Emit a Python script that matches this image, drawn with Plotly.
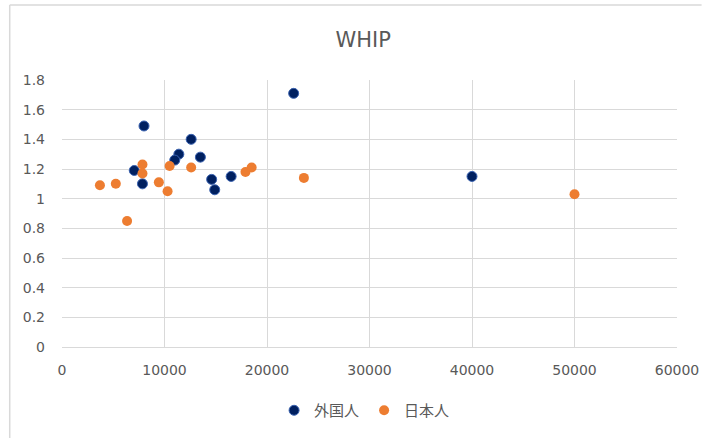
import plotly.graph_objects as go

# 外国人 (foreign players)
foreign_x = [22600, 8000, 12600, 11400, 11000, 13500, 7050, 7850, 14600, 14900, 16500, 40000]
foreign_y = [1.71, 1.49, 1.40, 1.30, 1.26, 1.28, 1.19, 1.10, 1.13, 1.06, 1.15, 1.15]

# 日本人 (Japanese players)
japanese_x = [3700, 5250, 7850, 7850, 6350, 9450, 10300, 10500, 12600, 17900, 18500, 23600, 50000]
japanese_y = [1.09, 1.10, 1.23, 1.17, 0.85, 1.11, 1.05, 1.22, 1.21, 1.18, 1.21, 1.14, 1.03]

GRID = '#d9d9d9'
TEXT = '#595959'
FONT = "DejaVu Sans, Noto Sans CJK JP"

fig = go.Figure()

fig.add_trace(go.Scatter(
    x=foreign_x, y=foreign_y,
    mode='markers', name='外国人',
    marker=dict(size=10, color='#002060', line=dict(width=1, color='#3a62b0'))
))
fig.add_trace(go.Scatter(
    x=japanese_x, y=japanese_y,
    mode='markers', name='日本人',
    marker=dict(size=10, color='#ed7d31', line=dict(width=0))
))

# thin chart-area frame (top and left edges visible in the crop)
fig.add_shape(type='line', xref='paper', yref='paper',
              x0=-0.085, x1=1.04, y0=1.281, y1=1.281,
              line=dict(color=GRID, width=1.5))
fig.add_shape(type='line', xref='paper', yref='paper',
              x0=-0.085, x1=-0.085, y0=1.281, y1=-0.4,
              line=dict(color=GRID, width=1.5))

fig.update_layout(
    width=712, height=438,
    paper_bgcolor='white', plot_bgcolor='white',
    font=dict(family=FONT, color=TEXT, size=14),
    margin=dict(l=62, r=35, t=80, b=91, autoexpand=False),
    title=dict(text='WHIP', x=0.51, xanchor='center', y=0.909, yanchor='middle',
               font=dict(size=21, color=TEXT, family=FONT)),
    xaxis=dict(range=[0, 60000], dtick=10000, tick0=0, tickformat='d',
               showgrid=True, gridcolor=GRID, gridwidth=1, automargin=False,
               zeroline=False, showline=True, linecolor=GRID, linewidth=1,
               ticks='', ticklabelstandoff=10, tickfont=dict(size=14, color=TEXT)),
    yaxis=dict(range=[0, 1.8], dtick=0.2, tick0=0, automargin=False,
               showgrid=True, gridcolor=GRID, gridwidth=1,
               zeroline=False, showline=False,
               ticks='', ticklabelstandoff=16, tickfont=dict(size=14, color=TEXT)),
    showlegend=True,
    legend=dict(orientation='h', x=0.492, xanchor='center', y=-0.238, yanchor='middle',
                font=dict(size=15, color=TEXT, family=FONT), itemwidth=30,
                bgcolor='rgba(0,0,0,0)')
)

# drop the default page margin so the figure sits at the window's corner
fig.write_html("out.html", config={"displayModeBar": False},
               post_script="document.body.style.margin='0';")
